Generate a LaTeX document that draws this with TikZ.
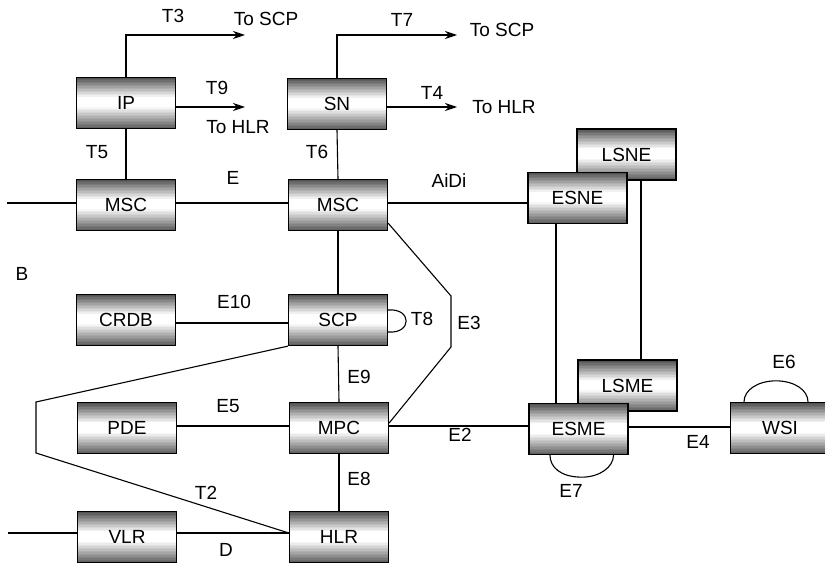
\documentclass[tikz,border=0pt]{standalone}
\usepackage{fontspec}
\setmainfont{Liberation Sans}
\usetikzlibrary{arrows.meta,calc}
\tikzset{
  netbox/.style={draw, line width=1.3pt, minimum width=99pt, minimum height=51pt, inner sep=0pt, font=\fontsize{19}{21}\selectfont,
    path picture={
      \foreach \i in {0,...,33}{
        \pgfmathsetmacro{\ta}{\i/34}
        \pgfmathsetmacro{\tb}{min(1,(\i+1.1)/34)}
        \pgfmathsetmacro{\tm}{(\i+0.5)/34}
        \pgfmathsetmacro{\g}{max(0,70*(1-\tm/0.4))+max(0,64*(\tm-0.58)/0.42)}
        \fill[black!\g] ($(path picture bounding box.north west)!\ta!(path picture bounding box.south west)$) rectangle ($(path picture bounding box.north east)!\tb!(path picture bounding box.south east)$);
      }
    }},
  lbl/.style={inner sep=0pt, font=\fontsize{19}{21}\selectfont},
  conn/.style={line width=1.1pt},
  arr/.style={conn, -{Stealth[length=12pt,width=8pt]}}
}
\begin{document}
\begin{tikzpicture}[x=1pt,y=-1pt]
\useasboundingbox (0,0) rectangle (825,564);
\clip (0,0) rectangle (825,564);
% boxes
\node[netbox] (IP) at (126,103) {IP};
\node[netbox] (SN) at (337,104) {SN};
\node[netbox] (MSC1) at (126,205) {MSC};
\node[netbox] (MSC2) at (338,205) {MSC};
\node[netbox] (CRDB) at (126,320) {CRDB};
\node[netbox] (SCP) at (338,320) {SCP};
\node[netbox] (PDE) at (127,428) {PDE};
\node[netbox] (MPC) at (339,428) {MPC};
\node[netbox] (VLR) at (127,537) {VLR};
\node[netbox] (HLR) at (339,537) {HLR};
\node[netbox] (LSNE) at (626.5,154.5) {LSNE};
\node[netbox] (ESNE) at (577.5,198) {ESNE};
\node[netbox] (LSME) at (627.5,385.5) {LSME};
\node[netbox] (ESME) at (578.5,429) {ESME};
\node[netbox] (WSI) at (780,428) {WSI};
% coordinates
\coordinate (t3) at (245,35);
\coordinate (t9) at (245,107);
\coordinate (t7) at (457,35);
\coordinate (t4) at (457,107);
\coordinate (lb) at (7,203);
\coordinate (lv) at (8,533);
\coordinate (e3a) at (451,296);
\coordinate (e3b) at (451,347);
\coordinate (t2a) at (36,402);
\coordinate (t2b) at (36,453);
\coordinate (v1) at (556,0);
\coordinate (v2) at (641,0);
% connectors
\draw[arr] (IP.north) |- (t3);
\draw[arr] ([yshift=-4pt]IP.east) -- (t9);
\draw[arr] (SN.north) |- (t7);
\draw[arr] ([yshift=-3pt]SN.east) -- (t4);
\draw[conn] (IP.south) -- (MSC1.north);
\draw[conn] (SN.south) -- (MSC2.north);
\draw[conn] (lb) -- (lb -| MSC1.west);
\draw[conn] ([yshift=2pt]MSC1.east) -- ([yshift=2pt]MSC2.west);
\draw[conn] ([yshift=2pt]MSC2.east) -- ([yshift=2pt]MSC2.east -| ESNE.west);
\draw[conn] (MSC2.south) -- (SCP.north);
\draw[conn] ([yshift=-3pt]CRDB.east) -- ([yshift=-3pt]SCP.west);
\draw[conn] ([yshift=10pt]SCP.east) .. controls ([xshift=24pt,yshift=12pt]SCP.east) and ([xshift=24pt,yshift=-14pt]SCP.east) .. ([yshift=-12pt]SCP.east);
\draw[conn] ([yshift=8pt]MSC2.south east) -- (e3a) -- (e3b) -- ([yshift=5pt]MPC.east);
\draw[conn] (SCP.south) -- (MPC.north);
\draw[conn] ([yshift=2pt]PDE.east) -- ([yshift=2pt]MPC.west);
\draw[conn] ([yshift=2pt]MPC.east) -- ([yshift=2pt]MPC.east -| ESME.west);
\draw[conn] (MPC.south) -- (HLR.north);
\draw[conn] (SCP.south west) -- (t2a) -- (t2b) -- ([yshift=4pt]HLR.west);
\draw[conn] (lv) -- (lv -| VLR.west);
\draw[conn] ([yshift=4pt]VLR.east) -- ([yshift=4pt]VLR.east -| HLR.west);
\draw[conn] (v1 |- ESNE.south) -- (v1 |- ESME.north);
\draw[conn] (v2 |- LSNE.south) -- (v2 |- LSME.north);
\draw[conn] ([yshift=2pt]ESME.east) -- ([yshift=2pt]ESME.east -| WSI.west);
\draw[conn] ([xshift=-28.5pt]ESME.south) .. controls ([xshift=-28.5pt,yshift=-12pt]ESME.south) and ([xshift=-18pt,yshift=-22pt]ESME.south) .. ([xshift=3.5pt,yshift=-22pt]ESME.south) .. controls ([xshift=21pt,yshift=-22pt]ESME.south) and ([xshift=35pt,yshift=-12pt]ESME.south) .. ([xshift=35pt]ESME.south);
\draw[conn] ([xshift=-36pt]WSI.north) .. controls ([xshift=-36pt,yshift=12pt]WSI.north) and ([xshift=-22pt,yshift=21pt]WSI.north) .. ([xshift=-4pt,yshift=21pt]WSI.north) .. controls ([xshift=14pt,yshift=21pt]WSI.north) and ([xshift=28pt,yshift=12pt]WSI.north) .. ([xshift=28pt]WSI.north);
% labels
\node[lbl] (lT3) at (173,16) {T3};
\node[lbl] (lS1) at (266,19) {To SCP};
\node[lbl] (lT9) at (217,88) {T9};
\node[lbl] (lH1) at (238,127) {To HLR};
\node[lbl] (lT7) at (402,20) {T7};
\node[lbl] (lS2) at (502,30) {To SCP};
\node[lbl] (lT4) at (432,93) {T4};
\node[lbl] (lH2) at (504,107) {To HLR};
\node[lbl] (lT5) at (97,152) {T5};
\node[lbl] (lT6) at (317,152) {T6};
\node[lbl] (lE) at (233,178) {E};
\node[lbl] (lAiDi) at (449,181) {AiDi};
\node[lbl] (lB) at (22,274) {B};
\node[lbl] (lE10) at (234,302) {E10};
\node[lbl] (lT8) at (422,319) {T8};
\node[lbl] (lE3) at (469,323) {E3};
\node[lbl] (lE9) at (359,377) {E9};
\node[lbl] (lE5) at (228,406) {E5};
\node[lbl] (lE2) at (460,435) {E2};
\node[lbl] (lE8) at (359,479) {E8};
\node[lbl] (lT2) at (206,493) {T2};
\node[lbl] (lD) at (226,550) {D};
\node[lbl] (lE4) at (698,442) {E4};
\node[lbl] (lE7) at (571,491) {E7};
\node[lbl] (lE6) at (784,362) {E6};
\end{tikzpicture}
\end{document}
